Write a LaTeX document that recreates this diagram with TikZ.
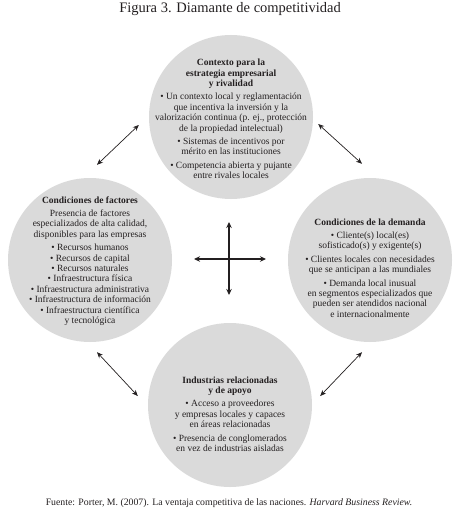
\documentclass[tikz,border=0pt]{standalone}
\usepackage{fontspec}
\setmainfont{Liberation Serif}
\usetikzlibrary{arrows.meta}

\definecolor{disc}{HTML}{DADADA}
\definecolor{ink}{HTML}{231F20}

\begin{document}
\begin{tikzpicture}[
  x=1pt, y=-1pt,
  every node/.style={text=ink},
  disk/.style={circle, fill=disc, minimum size=164pt, inner sep=0pt},
  blurb/.style={align=center, inner sep=0pt,
                font=\fontsize{9.5}{10.4}\selectfont},
  link/.style={<->, >={Stealth[length=6pt,width=5pt]}, line width=0.7pt, ink},
  hubline/.style={<->, >={Stealth[length=6pt,width=5.5pt]}, line width=1.1pt, ink},
]
\useasboundingbox (0,0) rectangle (460,513);

% ── Title ──
\node[font=\fontsize{14.5}{16}\selectfont] (title) at (230,9)
  {Figura 3. Diamante de competitividad};

% ── Four circles ──
\node[disk] (ctx) at (231,117) {};
\node[disk] (fac) at (90,260) {};
\node[disk] (dem) at (370,260) {};
\node[disk] (ind) at (230,405) {};

% ── Texts ──
\node[blurb] (ctxtxt) at (231,119)
  {\textbf{Contexto para la}\\\textbf{estrategia empresarial}\\\textbf{y rivalidad}\\[3pt]
   • Un contexto local y reglamentación\\que incentiva la inversión y la\\
   valorización continua (p. ej., protección\\de la propiedad intelectual)\\[3pt]
   • Sistemas de incentivos por\\mérito en las instituciones\\[3pt]
   • Competencia abierta y pujante\\entre rivales locales};

\node[blurb] (factxt) at (90,261)
  {\textbf{Condiciones de factores}\\[3pt]
   Presencia de factores\\especializados de alta calidad,\\disponibles para las empresas\\[3pt]
   • Recursos humanos\\• Recursos de capital\\• Recursos naturales\\
   • Infraestructura física\\• Infraestructura administrativa\\
   • Infraestructura de información\\• Infraestructura científica\\y tecnológica};

\node[blurb] (demtxt) at (370,268)
  {\textbf{Condiciones de la demanda}\\[3pt]
   • Cliente(s) local(es)\\sofisticado(s) y exigente(s)\\[3pt]
   • Clientes locales con necesidades\\que se anticipan a las mundiales\\[3pt]
   • Demanda local inusual\\en segmentos especializados que\\
   pueden ser atendidos nacional\\e internacionalmente};

\node[blurb] (indtxt) at (230,414)
  {\textbf{Industrias relacionadas}\\\textbf{y de apoyo}\\[3pt]
   • Acceso a proveedores\\y empresas locales y capaces\\en áreas relacionadas\\[3pt]
   • Presencia de conglomerados\\en vez de industrias aisladas};

% ── Diagonal arrows ──
\draw[link] ([shift={(7,-13)}]fac.north) -- ([shift={(-10,8)}]ctx.west);
\draw[link] ([shift={(5,7)}]ctx.east) -- ([shift={(-8,-14)}]dem.north);
\draw[link] ([shift={(7,10)}]fac.south) -- ([shift={(-10,-9)}]ind.west);
\draw[link] ([shift={(8,-9)}]ind.east) -- ([shift={(-8,10)}]dem.south);

% ── Centre cross ──
\coordinate (hubW) at (194,259);
\coordinate (hubE) at (266,259);
\coordinate (hubN) at (229,222);
\coordinate (hubS) at (229,295);
\draw[hubline] (hubW) -- (hubE);
\draw[hubline] (hubN) -- (hubS);

% ── Source ──
\node[font=\fontsize{9.8}{12}\selectfont] (source) at (229,503)
  {Fuente: Porter, M. (2007). La ventaja competitiva de las naciones. \textit{Harvard Business Review.}};

\end{tikzpicture}
\end{document}
